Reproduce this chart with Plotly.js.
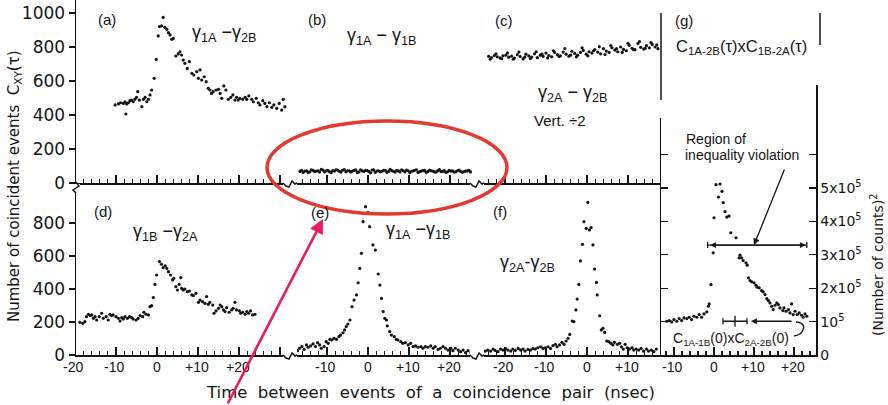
<!DOCTYPE html>
<html><head><meta charset="utf-8">
<script src="https://cdn.plot.ly/plotly-3.0.1.min.js"></script>
<style>html,body{margin:0;padding:0;background:#fff}#chart{width:888px;height:405px}</style>
</head><body><div id="chart"></div>
<script>
// ---------------- DATA ----------------
// (a) gamma1A - gamma2B
const aX = [-10.2,-9.4,-8.9,-8.2,-7.8,-7.6,-7.4,-7.0,-6.6,-6.2,-5.8,-5.4,-5.0,-4.7,-4.3,-3.7,-3.3,-2.9,-2.5,-2.1,-1.7,-1.3,-0.7,-0.2,0.3,0.6,1.1,1.5,1.9,2.4,2.8,3.2,3.6,4.0,4.6,5.2,5.6,6.0,6.4,6.8,7.4,7.9,8.5,9.0,9.7,10.1,10.5,10.9,11.5,12.0,12.5,12.9,13.3,13.7,14.4,15.0,15.4,15.8,16.3,16.8,17.4,18.0,18.5,19.0,19.4,19.8,20.2,20.9,21.5,21.9,22.4,23.1,23.5,24.2,24.7,25.1,25.8,26.3,26.8,27.4,28.0,28.5,29.2,29.8,30.4,30.8,31.2];
const aY = [459,465,472,468,478,406,465,472,484,488,478,492,504,537,488,449,492,504,478,492,518,547,616,727,865,920,924,974,916,904,884,871,845,851,747,759,772,753,723,704,674,714,645,635,655,616,665,606,625,596,557,547,527,537,547,551,527,498,571,547,492,504,518,488,504,488,498,492,504,492,512,492,478,498,472,459,484,468,449,472,445,459,439,468,429,492,449];
// (b) gamma1A - gamma1B (two interleaved rows of channels)
const bX = [-16.6,-15.8,-15.0,-14.2,-13.4,-12.6,-11.8,-11.0,-10.2,-9.4,-8.6,-7.8,-7.0,-6.2,-5.4,-4.6,-3.8,-3.0,-2.2,-1.4,-0.6,0.2,1.0,1.8,2.6,3.4,4.2,5.0,5.8,6.6,7.4,8.2,9.0,9.8,10.6,11.4,12.2,13.0,13.8,14.6,15.4,16.2,17.0,17.8,18.6,19.4,20.2,21.0,21.8,22.6,23.4,24.2,25.0];
const bY = [68,62,72,66,74,70,64,76,71,67,73,78,69,75,66,72,70,77,65,71,74,68,76,63,72,69,75,67,73,64,71,78,66,72,69,75,62,70,74,67,72,65,71,68,73,66,70,64,72,69,67,71,65];
const bX2 = [-16.2,-15.4,-14.6,-13.8,-13.0,-12.2,-11.4,-10.6,-9.8,-9.0,-8.2,-7.4,-6.6,-5.8,-5.0,-4.2,-3.4,-2.6,-1.8,-1.0,-0.2,0.6,1.4,2.2,3.0,3.8,4.6,5.4,6.2,7.0,7.8,8.6,9.4,10.2,11.0,11.8,12.6,13.4,14.2,15.0,15.8,16.6,17.4,18.2,19.0,19.8,20.6,21.4,22.2,23.0,23.8,24.6];
const bY2 = [75,70,63,78,67,72,80,66,74,61,70,76,64,79,71,65,74,62,78,68,73,60,77,70,66,75,63,80,69,74,65,72,76,61,71,78,67,73,63,76,70,64,79,68,62,74,71,66,76,63,70,74];
// (c) gamma2A - gamma2B, vertical scale divided by 2
const cX = [-24.0,-23.3,-22.6,-21.9,-21.2,-20.5,-19.8,-19.1,-18.4,-17.7,-17.0,-16.3,-15.6,-14.9,-14.2,-13.5,-12.8,-12.1,-11.4,-10.7,-10.0,-9.3,-8.6,-7.9,-7.2,-6.5,-5.8,-5.1,-4.4,-3.7,-3.0,-2.3,-1.6,-0.9,-0.2,0.5,1.2,1.9,2.6,3.3,4.0,4.7,5.4,6.1,6.8,7.5,8.2,8.9,9.6,10.3,11.0,11.7,12.4,13.1,13.8,14.5,15.2,15.9,16.6,17.3];
const cY = [745,738,750,742,736,748,752,740,746,735,755,744,730,758,748,741,760,737,752,745,764,750,742,768,755,748,770,758,746,775,762,752,768,780,758,772,764,785,770,760,790,776,768,795,782,772,800,786,778,810,792,784,820,798,788,808,795,815,800,790];
const cX2 = [-23.6,-22.2,-20.8,-19.4,-18.0,-16.6,-15.2,-13.8,-12.4,-11.0,-9.6,-8.2,-6.8,-5.4,-4.0,-2.6,-1.2,0.2,1.6,3.0,4.4,5.8,7.2,8.6,10.0,11.4,12.8,14.2,15.6,17.0];
const cY2 = [728,760,731,765,728,770,740,733,772,758,736,778,744,790,752,742,795,748,778,802,756,808,790,768,822,784,832,792,826,812];
// (d) gamma1B - gamma2A
const dX = [-18.8,-18.1,-17.6,-17.2,-16.7,-16.3,-15.9,-15.5,-15.1,-14.7,-14.1,-13.5,-13.1,-12.4,-11.9,-11.5,-11.1,-10.7,-10.0,-9.4,-9.0,-8.6,-8.2,-7.8,-7.2,-6.7,-6.2,-5.8,-5.1,-4.6,-4.1,-3.5,-3.2,-2.7,-2.1,-1.7,-1.3,-0.9,-0.5,-0.1,0.6,1.1,1.5,2.0,2.4,2.8,3.3,3.8,4.1,4.6,5.0,5.4,5.8,6.0,6.4,6.8,7.4,7.9,8.5,8.9,9.5,10.1,10.5,11.1,11.7,12.1,12.5,12.9,13.6,13.9,14.4,15.0,15.4,15.8,16.2,16.6,17.0,17.6,18.2,18.6,19.0,19.4,20.1,20.4,20.9,21.5,21.9,22.3,22.8,23.3,23.9];
const dY = [198,192,202,232,247,239,243,222,232,212,232,253,222,232,212,247,239,243,232,222,206,226,218,232,222,232,226,218,212,222,239,232,259,247,243,293,299,348,428,485,566,550,529,541,525,505,485,455,465,414,394,428,469,404,394,400,384,388,364,360,374,319,333,323,313,354,307,319,303,253,267,283,303,293,273,263,287,259,273,283,319,273,267,253,259,247,263,253,267,243,247];
// (e) gamma1A - gamma1B
const eX = [-17.9,-17.2,-16.7,-16.1,-15.6,-15.0,-14.6,-14.0,-13.4,-12.8,-12.3,-11.8,-11.4,-10.7,-10.2,-9.7,-9.3,-8.8,-8.3,-7.7,-7.1,-6.7,-6.1,-5.7,-5.3,-4.9,-4.4,-3.9,-3.4,-2.8,-2.4,-2.0,-1.6,-1.2,-0.6,0.0,0.4,1.2,1.8,2.5,2.9,3.3,3.7,4.1,4.5,4.7,5.3,5.7,6.4,6.9,7.3,8.0,8.5,9.1,9.8,10.4,11.0,11.6,12.2,12.9,13.4,14.0,14.6,15.3,15.9,16.4,17.1,17.7,18.3,18.9,19.5,20.2,20.7,21.3,22.0,22.6,23.2,23.8,24.4,25.1];
const eY = [10,26,41,51,34,61,47,55,67,51,75,61,41,51,81,71,95,91,101,95,111,121,135,152,172,188,212,293,333,364,438,525,616,808,899,863,778,667,636,491,424,343,263,222,212,176,142,121,111,95,91,81,71,75,61,71,51,55,47,51,41,51,47,55,41,51,34,41,51,41,30,41,26,41,30,20,30,14,26,14];
// (f) gamma2A - gamma2B
const fX = [-25.4,-24.8,-24.2,-23.5,-22.9,-22.4,-21.7,-21.1,-20.5,-19.9,-19.3,-18.6,-18.1,-17.5,-16.8,-16.2,-15.6,-15.1,-14.4,-13.8,-13.2,-12.6,-12.0,-11.3,-10.7,-10.2,-9.5,-8.9,-8.3,-7.7,-7.3,-6.7,-6.1,-5.6,-5.1,-4.6,-4.2,-3.6,-3.2,-2.7,-2.4,-2.0,-1.6,-1.1,-0.75,-0.2,0.2,0.6,1.0,1.45,1.85,2.3,2.5,3.1,3.5,3.9,4.3,4.8,5.3,5.8,6.3,6.7,7.4,7.95,8.4,8.85,9.3,9.8,10.4,11.0,11.4,12.0,12.6,13.2,13.8,14.5,15.0,15.7,16.3,16.9];
const fY = [20,24,30,24,36,28,20,36,30,40,30,24,36,28,40,30,36,24,34,30,40,36,44,50,40,44,50,40,57,65,50,61,77,65,85,101,125,206,202,273,339,428,570,671,808,768,925,758,772,667,521,440,364,238,152,162,137,85,81,71,61,77,65,71,50,36,65,44,36,44,30,36,30,40,24,36,24,30,20,36];
// (g) product C1A-2B(t) x C1B-2A(t), in units of 1e5 counts^2
const gX = [-11.8,-11.2,-10.6,-10.0,-9.3,-8.7,-8.1,-7.5,-6.8,-6.2,-5.6,-5.0,-4.3,-3.7,-3.1,-2.5,-1.8,-1.4,-1.2,-0.75,-0.2,0.0,0.5,1.1,1.5,2.0,2.3,2.75,3.2,3.75,4.2,5.5,6.3,6.5,6.9,7.3,8.0,8.3,8.6,9.0,9.4,10.0,10.5,10.8,11.3,11.9,12.3,12.75,13.2,13.6,14.0,14.4,14.8,15.25,15.7,16.1,16.5,17.2,17.5,18.0,18.6,19.0,19.4,19.8,20.25,20.8,21.3,21.9,22.3,22.75,23.2];
const gY = [1.01,1.03,0.99,1.06,1.01,1.09,1.03,1.11,1.09,1.13,1.06,1.16,1.13,1.21,1.13,1.23,1.29,1.46,1.53,2.11,3.06,4.11,5.10,4.73,5.12,4.90,4.56,4.29,4.13,4.16,3.66,3.51,2.91,2.99,2.91,2.83,2.76,2.69,2.31,2.23,2.19,2.16,2.09,2.03,2.01,1.93,1.89,1.81,1.69,1.63,1.56,1.46,1.36,1.49,1.56,1.51,1.41,1.33,1.41,1.31,1.36,1.26,1.53,1.21,1.31,1.21,1.26,1.19,1.13,1.23,1.16];
// (g) reference levels
const gViolationLevel = 3.29;          // x1e5
const gViolationSpan = [-1.6, 23.2];   // nsec
const gZeroProduct = 1.01;             // C1A-1B(0) x C2A-2B(0), x1e5
const gZeroProductSpan = [2.25, 8.25]; // nsec (error bar)

// tick labels
const yLeftTicks = [0,200,400,600,800,1000];
const yLeftTicksLow = [0,200,400,600,800];
const dTicks = [-20,-10,0,10,20], dTickText = ['-20','-10','0','+10','+20'];
const eTicks = [-10,0,10,20], eTickText = ['-10','0','+10','+20'];
const fTicks = [-20,-10,0,10], fTickText = ['-20','-10','0','+10'];
const gTicks = [-10,0,10,20], gTickText = ['-10','0','+10','+20'];
const gRightTicks = [0,1,2,3,4,5,6];
const gRightText = ['0','10<sup>5</sup>','2x10<sup>5</sup>','3x10<sup>5</sup>','4x10<sup>5</sup>','5x10<sup>5</sup>',''];

// ---------------- LAYOUT HELPERS ----------------
const W = 888, H = 405;
const px = x => x / W, py = y => 1 - y / H;
const INK = '#141414';
// panel geometry: [left px, right px, px of t=0, px per nsec]
const PAN = {
  ad: [76, 290, 157, 4.1], be: [290, 477, 368, 4.1], cf: [477, 661, 587, 4.1], g: [661, 816, 714, 4.0]
};
const xr = p => [(p[0] - p[2]) / p[3], (p[1] - p[2]) / p[3]];
const dom = p => [px(p[0]), px(p[1])];

const xBase = {
  showline:true, linecolor:INK, linewidth:1.5, showgrid:false, zeroline:false,
  ticks:'inside', ticklen:8, tickwidth:1.3, tickcolor:INK, tickmode:'linear', tick0:0, dtick:10,
  minor:{ticks:'inside', ticklen:4, tickwidth:1.1, tickcolor:INK, tick0:0, dtick:2, showgrid:false},
  showticklabels:false, fixedrange:true
};
const mk = (p, anchor) => Object.assign({}, xBase, {domain:dom(p), range:xr(p), anchor});

const layout = {
  width:W, height:H, margin:{l:0,r:0,t:0,b:0}, showlegend:false,
  paper_bgcolor:'#fff', plot_bgcolor:'rgba(0,0,0,0)',
  xaxis:  mk(PAN.ad, 'y'),  xaxis2: mk(PAN.be, 'y'),  xaxis3: mk(PAN.cf, 'y'),
  xaxis4: mk(PAN.ad, 'y2'), xaxis5: mk(PAN.be, 'y2'), xaxis6: mk(PAN.cf, 'y2'),
  xaxis7: mk(PAN.g, 'y3'),
  yaxis: {domain:[py(183),1], range:[0,183/0.17], anchor:'x', showline:true, linecolor:INK, linewidth:1.5,
    showgrid:false, zeroline:false, ticks:'outside', ticklen:6, tickwidth:1.3, tickcolor:INK,
    tickmode:'array', tickvals:yLeftTicks, tickfont:{family:'DejaVu Sans, sans-serif', size:17, color:INK}, fixedrange:true},
  yaxis2: {domain:[py(355),py(192)], range:[0,(355-192)/0.165], anchor:'x4', showline:true, linecolor:INK, linewidth:1.5,
    showgrid:false, zeroline:false, ticks:'outside', ticklen:6, tickwidth:1.3, tickcolor:INK,
    tickmode:'array', tickvals:yLeftTicksLow, tickfont:{family:'DejaVu Sans, sans-serif', size:17, color:INK}, fixedrange:true},
  yaxis3: {domain:[py(355),py(85)], range:[0,270/33.4], anchor:'x7', side:'right', showline:true, linecolor:INK, linewidth:1.5,
    showgrid:false, zeroline:false, ticks:'inside', ticklen:7, tickwidth:1.3, tickcolor:INK,
    tickmode:'array', tickvals:gRightTicks, ticktext:gRightText, tickfont:{family:'DejaVu Sans, sans-serif', size:14, color:INK}, fixedrange:true},
  yaxis4: {domain:[py(355),py(118)], range:[0,237/33.4], anchor:'x7', side:'left', showline:true, linecolor:INK, linewidth:1.5,
    showgrid:false, zeroline:false, ticks:'inside', ticklen:7, tickwidth:1.3, tickcolor:INK,
    tickmode:'array', tickvals:[1,2,3,4,5,6], showticklabels:false, fixedrange:true}
};

// ---------------- TRACES ----------------
const dot = {mode:'markers', marker:{size:3.2, color:INK}, hoverinfo:'skip', cliponaxis:false};
const tr = (x, y, xa, ya) => Object.assign({x, y, xaxis:xa, yaxis:ya, type:'scatter'}, dot);
const data = [
  tr(aX, aY, 'x', 'y'), tr(bX.concat(bX2), bY.concat(bY2), 'x2', 'y'), tr(cX.concat(cX2), cY.concat(cY2), 'x3', 'y'),
  tr(dX, dY, 'x4', 'y2'), tr(eX, eY, 'x5', 'y2'), tr(fX, fY, 'x6', 'y2'),
  tr(gX, gY, 'x7', 'y3'),
  {x:[], y:[], xaxis:'x7', yaxis:'y4', type:'scatter', mode:'markers'},
  // region of violation bar
  {x:[(gViolationSpan[0]+gViolationSpan[1])/2], y:[gViolationLevel], xaxis:'x7', yaxis:'y3', type:'scatter', mode:'markers',
   marker:{size:1, color:INK}, error_x:{type:'constant', value:(gViolationSpan[1]-gViolationSpan[0])/2, width:3, thickness:1.3, color:INK}, hoverinfo:'skip'},
  // C(0) x C(0) level with error bar
  {x:[(gZeroProductSpan[0]+gZeroProductSpan[1])/2], y:[gZeroProduct], xaxis:'x7', yaxis:'y3', type:'scatter', mode:'markers',
   marker:{symbol:'line-ns-open', size:8, color:INK, line:{width:1.3, color:INK}},
   error_x:{type:'constant', value:(gZeroProductSpan[1]-gZeroProductSpan[0])/2, width:3, thickness:1.3, color:INK}, hoverinfo:'skip'}
];

// ---------------- TEXT ----------------
const F = (size, fam) => ({family: fam || 'Liberation Sans, Arial, sans-serif', size, color:INK});
const txt = (text, x, y, size, extra) => Object.assign({xref:'paper', yref:'paper', x:px(x), y:py(y), text,
  showarrow:false, xanchor:'center', yanchor:'middle', font:F(size)}, extra || {});
// bottom tick labels, positioned through each panel's time scale
const tickLab = (vals, texts, p) => vals.map((v, i) => ({xref:'paper', yref:'paper', x:px(p[2] + v * p[3]), y:py(367), text:texts[i],
  showarrow:false, xanchor:'center', yanchor:'middle', font:F(14), xshift: texts[i].charAt(0)==='-' ? -2 : (texts[i].charAt(0)==='+' ? -1 : 0)}));
const annotations = [].concat(
  tickLab(dTicks, dTickText, PAN.ad), tickLab(eTicks, eTickText, PAN.be),
  tickLab(fTicks, fTickText, PAN.cf), tickLab(gTicks, gTickText, PAN.g),
  [
  txt('(a)', 107, 19, 15), txt('(b)', 317, 19, 15), txt('(c)', 504, 20, 15), txt('(g)', 684, 20, 15),
  txt('(d)', 103, 211, 15), txt('(e)', 320, 212, 15), txt('(f)', 500, 211, 15),
  txt('γ<sub>1A</sub> −γ<sub>2B</sub>', 224, 34, 18),
  txt('γ<sub>1A</sub> − γ<sub>1B</sub>', 381, 37, 18),
  txt('γ<sub>2A</sub> − γ<sub>2B</sub>', 572, 94, 18),
  txt('Vert. ÷2', 532, 121, 15, {xanchor:'left'}),
  txt('γ<sub>1B</sub> −γ<sub>2A</sub>', 165, 232, 18),
  txt('γ<sub>1A</sub> −γ<sub>1B</sub>', 418, 230, 18),
  txt('γ<sub>2A</sub>-γ<sub>2B</sub>', 527, 263, 18),
  txt('C<sub>1A-2B</sub>(τ)xC<sub>1B-2A</sub>(τ)', 741, 47, 16.5),
  txt('Region of', 684, 139, 14, {xanchor:'left'}),
  txt('inequality violation', 683, 155, 14, {xanchor:'left'}),
  txt('C<sub>1A-1B</sub>(0)xC<sub>2A-2B</sub>(0)', 731, 339, 14),
  txt('Number of coincident events\u00a0\u00a0C<sub>XY</sub>(τ)', 14, 186, 15, {textangle:-90, font:F(15,'DejaVu Sans, sans-serif')}),
  txt('(Number of counts)<sup>2</sup>', 877, 265, 14, {textangle:-90, font:F(14,'DejaVu Sans, sans-serif')}),
  txt('Time\u00a0 between\u00a0 events\u00a0 of\u00a0 a\u00a0 coincidence\u00a0 pair\u00a0 (nsec)', 430, 392, 16.5, {font:F(16.5,'DejaVu Sans, sans-serif')}),
  // arrows in panel g
  {xref:'x7', yref:'y3', x:10, y:gViolationLevel, ax:31, ay:-77, text:'', showarrow:true,
   arrowhead:2, arrowsize:1, arrowwidth:1.3, arrowcolor:INK},
  {xref:'x7', yref:'y3', x:gViolationSpan[1], y:gViolationLevel, axref:'x7', ayref:'y3', ax:gViolationSpan[0], ay:gViolationLevel,
   text:'', showarrow:true, arrowside:'end+start', arrowhead:2, arrowsize:0.9, arrowwidth:1.3, arrowcolor:INK, standoff:1, startstandoff:1},
  {xref:'x7', yref:'y3', x:gZeroProductSpan[1]+1.0, y:gZeroProduct, ax:42, ay:0, text:'', showarrow:true,
   arrowhead:2, arrowsize:0.9, arrowwidth:1.3, arrowcolor:INK},
  // red pointer arrow
  {xref:'paper', yref:'paper', x:px(323), y:py(219), ax:-96, ay:186, text:'', showarrow:true,
   arrowhead:2, arrowsize:1.1, arrowwidth:2.6, arrowcolor:'#ec1c5c'}
  ]);
layout.annotations = annotations;

// ---------------- SHAPES (frame decorations) ----------------
const path = pts => pts.map((p,i)=> (i? 'L':'M') + px(p[0]) + ',' + py(p[1])).join(' ');
const line = {color:INK, width:1.5};
const wig = (x, y) => ({type:'path', xref:'paper', yref:'paper', line, path:
  path([[x-7,y],[x-4,y+3],[x-1,y+4],[x+2,y-2],[x+5,y+1],[x+7,y]])});
const white = (x0,x1,y0,y1) => ({type:'rect', xref:'paper', yref:'paper', x0:px(x0), x1:px(x1), y0:py(y1), y1:py(y0),
  line:{width:0}, fillcolor:'#fff', layer:'above'});
layout.shapes = [
  white(283,297,176,186), white(470,484,176,186), white(283,297,348,358), white(470,484,348,358),
  wig(290,183), wig(477,183), wig(290,355), wig(477,355),
  // left axis break
  white(72,80,184,192),
  {type:'path', xref:'paper', yref:'paper', line, path: path([[76,182],[79,186],[73,190],[76,193]])},
  // panel g frame, upper part
  {type:'line', xref:'paper', yref:'paper', x0:px(661), x1:px(661), y0:py(13), y1:py(100), line},
  {type:'line', xref:'paper', yref:'paper', x0:px(820), x1:px(820), y0:py(13), y1:py(45), line},
  // hook from the C(0)xC(0) label to its arrow
  {type:'path', xref:'paper', yref:'paper', line:{color:INK, width:1.3},
   path:'M'+px(796)+','+py(322)+' Q'+px(806)+','+py(323)+' '+px(803)+','+py(330)+' Q'+px(801)+','+py(335)+' '+px(794)+','+py(336)},
  // red ellipse
  {type:'circle', xref:'paper', yref:'paper', x0:px(267), x1:px(507), y0:py(214), y1:py(121),
   line:{color:'#e23a30', width:3.5}}
];

Plotly.newPlot('chart', data, layout, {staticPlot:true, displayModeBar:false});
</script>
</body></html>
